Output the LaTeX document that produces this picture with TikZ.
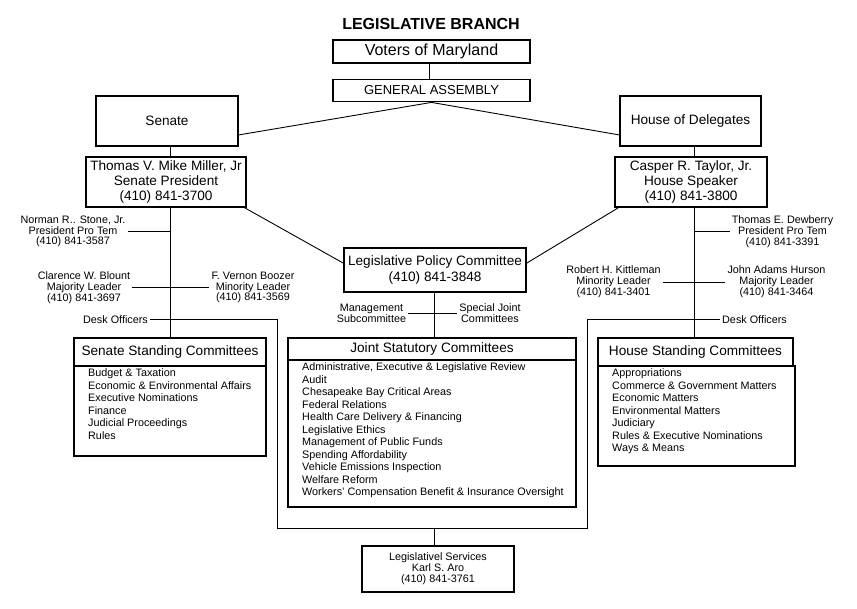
\documentclass[tikz,border=0pt]{standalone}
\usepackage{fontspec}
\setmainfont{Liberation Sans}
\tikzset{
  box/.style={draw, line width=1.8pt, inner sep=0pt, align=center},
  conn/.style={line width=0.9pt},
  lbl/.style={align=center, inner sep=2pt, font=\fontsize{10.8}{10.8}\selectfont},
  items/.style={align=left, anchor=north west, inner sep=0pt, font=\fontsize{10.8}{12.5}\selectfont},
  big/.style={font=\fontsize{13.6}{15}\selectfont},
}
\begin{document}
\begin{tikzpicture}[x=1pt,y=-1pt]
\useasboundingbox (0,0) rectangle (857,608);
% coordinates
\coordinate (sx) at (170.5,0);
\coordinate (tx) at (694,0);
\coordinate (jx) at (434,0);
\coordinate (bl) at (277,528);
\coordinate (br) at (587,528);
% title and top boxes
\node[font=\bfseries\fontsize{16}{18}\selectfont] (title) at (431,24) {LEGISLATIVE BRANCH};
\node[box, minimum width=197pt, minimum height=23pt, font=\fontsize{16}{18}\selectfont] (voters) at (431.5,51.5) {Voters of Maryland};
\node[box, minimum width=197pt, minimum height=22pt, font=\fontsize{13}{15}\selectfont] (ga) at (431.5,90.5) {GENERAL ASSEMBLY};
\node[box, big, minimum width=142pt, minimum height=50pt] (senate) at (167,121) {Senate};
\node[box, big, minimum width=141pt, minimum height=50pt] (house) at (690.5,121) {House of Delegates};
\node[box, big, minimum width=160pt, minimum height=50pt] (miller) at (166,182) {Thomas V. Mike Miller, Jr\\Senate President\\(410) 841-3700};
\node[box, big, minimum width=152pt, minimum height=50pt] (taylor) at (691,182) {Casper R. Taylor, Jr.\\House Speaker\\(410) 841-3800};
\node[box, font=\fontsize{13.6}{16}\selectfont, minimum width=182pt, minimum height=44pt] (lpc) at (435,270) {Legislative Policy Committee\\(410) 841-3848};
% labels
\node[lbl] (stone) at (73,231.5) {Norman R.. Stone, Jr.\\President Pro Tem\\(410) 841-3587};
\node[lbl] (blount) at (84,287.5) {Clarence W. Blount\\Majority Leader\\(410) 841-3697};
\node[lbl] (boozer) at (253,287.5) {F. Vernon Boozer\\Minority Leader\\(410) 841-3569};
\node[lbl] (deskl) at (115.5,319.5) {Desk Officers};
\node[lbl] (mgmt) at (371.5,313) {Management\\Subcommittee};
\node[lbl] (sjc) at (490,313) {Special Joint\\Committees};
\node[lbl] (dew) at (782.5,231.5) {Thomas E. Dewberry\\President Pro Tem\\(410) 841-3391};
\node[lbl] (kitt) at (613.5,282) {Robert H. Kittleman\\Minority Leader\\(410) 841-3401};
\node[lbl] (hurson) at (776.5,282) {John Adams Hurson\\Majority Leader\\(410) 841-3464};
\node[lbl] (deskr) at (754.5,319.5) {Desk Officers};
% committee boxes
\node[box, big, minimum width=192pt, minimum height=28pt] (ssc) at (170,352) {Senate Standing Committees};
\node[box, minimum width=192pt, minimum height=90pt] (sscb) at (170,411) {};
\node[items] (ssci) at (88,368.5) {Budget \& Taxation\\Economic \& Environmental Affairs\\Executive Nominations\\Finance\\Judicial Proceedings\\Rules};
\node[box, big, minimum width=288pt, minimum height=22pt] (jsc) at (432,349) {Joint Statutory Committees};
\node[box, minimum width=288pt, minimum height=147pt] (jscb) at (432,433.5) {};
\node[items] (jsci) at (302,362.5) {Administrative, Executive \& Legislative Review\\Audit\\Chesapeake Bay Critical Areas\\Federal Relations\\Health Care Delivery \& Financing\\Legislative Ethics\\Management of Public Funds\\Spending Affordability\\Vehicle Emissions Inspection\\Welfare Reform\\Workers' Compensation Benefit \& Insurance Oversight};
\node[box, big, minimum width=195pt, minimum height=28pt] (hsc) at (695.5,352) {House Standing Committees};
\node[box, minimum width=197pt, minimum height=100pt] (hscb) at (696.5,416) {};
\node[items] (hsci) at (612,368.5) {Appropriations\\Commerce \& Government Matters\\Economic Matters\\Environmental Matters\\Judiciary\\Rules \& Executive Nominations\\Ways \& Means};
\node[box, minimum width=152pt, minimum height=46pt, line width=1.8pt, font=\fontsize{10.8}{11}\selectfont] (ls) at (438,569) {Legislativel Services\\Karl S. Aro\\(410) 841-3761};
% connectors
\draw[conn] (voters.south -| 429,0) -- (ga.north -| 429,0);
\draw[conn] ([yshift=12pt]senate.south east) -- (ga.south) -- ([yshift=12pt]house.south west);
\draw[conn] (senate.south -| sx) -- (miller.north -| sx);
\draw[conn] (miller.south -| sx) -- (ssc.north -| sx);
\draw[conn] (house.south -| tx) -- (taylor.north -| tx);
\draw[conn] (taylor.south -| tx) -- (hsc.north -| tx);
\draw[conn] ([xshift=-2pt]miller.south east) -- ([yshift=7pt]lpc.west);
\draw[conn] ([xshift=4pt]taylor.south west) -- ([yshift=7pt]lpc.east);
\draw[conn] (lpc.south -| jx) -- (jsc.north -| jx);
\draw[conn] (stone.east) -- (stone.east -| sx);
\draw[conn] (blount.east) -- (boozer.west);
\draw[conn] (dew.west) -- (dew.west -| tx);
\draw[conn] (kitt.east) -- (hurson.west);
\draw[conn] (mgmt.east) -- (sjc.west);
\draw[conn] (deskl.east) -| (bl) -- (br) |- (deskr.west);
\draw[conn] (ls.north -| jx) -- (bl -| jx);
\end{tikzpicture}
\end{document}
